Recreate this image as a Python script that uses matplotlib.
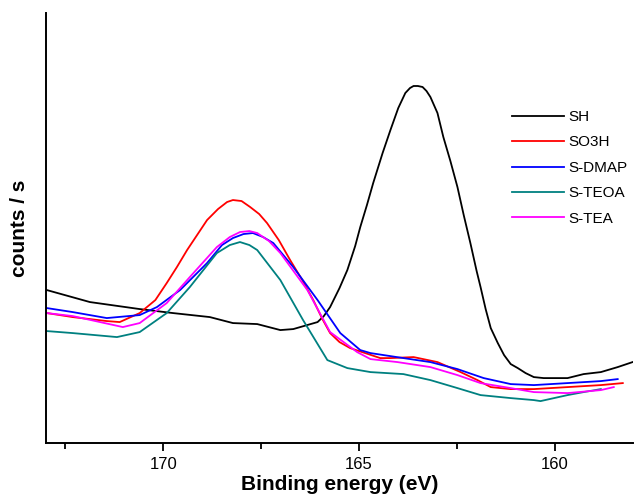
import matplotlib
matplotlib.use("Agg")
import matplotlib.pyplot as plt
from matplotlib.ticker import MultipleLocator, NullLocator

# Binding energy (eV) and intensity (arb. counts/s)
SH_E = [172.97, 171.87, 170.60, 169.75, 168.81, 168.22, 167.60, 167.01, 166.68,
        166.06, 165.90, 165.74, 165.50, 165.30, 165.10, 164.97, 164.80, 164.64,
        164.40, 164.20, 164.00, 163.82, 163.70, 163.61, 163.50, 163.38, 163.28,
        163.18, 163.00, 162.85, 162.67, 162.49, 162.33, 162.16, 162.00, 161.90,
        161.77, 161.64, 161.46, 161.30, 161.13, 160.95, 160.75, 160.54, 160.29,
        159.68, 159.27, 158.83, 158.40, 158.02]
SH_I = [153, 141, 134, 130, 126, 120, 119, 113, 114,
        121, 127, 136, 155, 173, 197, 216, 238, 260,
        290, 313, 335, 350, 355, 357, 357, 356, 352,
        346, 330, 306, 282, 256, 228, 200, 172, 156,
        134, 115, 100, 88, 79, 75, 70, 66, 65,
        65, 69, 71, 76, 81]

SO3H_E = [172.97, 172.31, 171.44, 171.11, 170.60, 170.20, 169.91, 169.65, 169.39,
          168.88, 168.60, 168.37, 168.22, 168.00, 167.78, 167.55, 167.35, 167.05,
          166.76, 166.45, 166.17, 165.95, 165.74, 165.50, 165.23, 164.46, 164.20,
          163.61, 163.00, 162.41, 161.98, 161.64, 161.13, 160.54, 159.68, 158.83,
          158.27]
SO3H_I = [130, 126, 122, 121, 130, 143, 160, 176, 193,
          223, 234, 241, 243, 242, 236, 229, 220, 203,
          183, 163, 143, 125, 110, 101, 95, 85, 85,
          86, 81, 71, 63, 56, 54, 54, 56, 58,
          60]

DMAP_E = [172.97, 172.31, 171.44, 170.60, 170.16, 169.57, 168.88, 168.50, 168.22,
          167.95, 167.71, 167.45, 167.19, 166.68, 166.06, 165.48, 164.97, 164.71,
          163.87, 163.18, 162.49, 161.82, 161.13, 160.54, 159.68, 158.83, 158.40]
DMAP_I = [135, 131, 125, 128, 136, 153, 180, 198, 205,
          209, 210, 206, 200, 176, 143, 110, 93, 90,
          85, 81, 74, 65, 59, 58, 60, 62, 64]

TEOA_E = [172.97, 172.31, 171.18, 170.60, 169.91, 169.32, 168.63, 168.30, 168.04,
          167.80, 167.60, 167.01, 166.43, 165.81, 165.30, 164.71, 163.87, 163.18,
          162.49, 161.90, 161.13, 160.54, 160.37, 159.68, 159.27, 158.83]
TEOA_I = [112, 110, 106, 111, 130, 156, 190, 198, 201,
          198, 193, 163, 123, 83, 75, 71, 69, 63,
          55, 48, 45, 43, 42, 48, 51, 54]

TEA_E = [172.97, 172.31, 171.03, 170.60, 169.91, 169.32, 168.63, 168.30, 168.04,
         167.80, 167.60, 167.30, 167.01, 166.32, 165.74, 165.05, 164.71, 164.02,
         163.18, 162.49, 161.90, 161.13, 160.54, 159.68, 158.83, 158.50]
TEA_I = [130, 127, 116, 120, 140, 166, 196, 206, 211,
         212, 210, 202, 190, 153, 111, 91, 84, 81,
         76, 68, 60, 55, 51, 50, 53, 56]

SERIES = [
    (SH_E, SH_I, "SH", "black"),
    (SO3H_E, SO3H_I, "SO3H", "#FF0000"),
    (DMAP_E, DMAP_I, "S-DMAP", "#0000FF"),
    (TEOA_E, TEOA_I, "S-TEOA", "#008080"),
    (TEA_E, TEA_I, "S-TEA", "#FF00FF"),
]

plt.rcParams["font.family"] = ["Liberation Sans", "DejaVu Sans"]

fig = plt.figure(figsize=(6.34, 4.99), dpi=100)
ax = fig.add_axes([0.072, 0.112, 0.927, 0.862])

for e, i, lbl, c in SERIES:
    ax.plot(e, i, color=c, lw=1.3, label=lbl)

ax.set_xlim(173, 158)
ax.set_ylim(0, 430)
ax.xaxis.set_major_locator(MultipleLocator(5))
ax.xaxis.set_minor_locator(MultipleLocator(2.5))
ax.yaxis.set_major_locator(NullLocator())
ax.tick_params(axis="x", which="major", length=6, width=1.3, labelsize=12, pad=4)
ax.tick_params(axis="x", which="minor", length=4, width=1.3)
ax.spines[["top", "right"]].set_visible(False)
ax.spines[["left", "bottom"]].set_linewidth(1.4)

ax.set_xlabel("Binding energy (eV)", fontsize=15, fontweight="bold", labelpad=2)
ax.set_ylabel("counts / s", fontsize=15, fontweight="bold", labelpad=12)

fig.legend(loc="upper left", bbox_to_anchor=(512 / 634, 1 - 110 / 499),
           frameon=False, fontsize=11, handlelength=3.4, handletextpad=0.3,
           labelspacing=0.75, borderpad=0, borderaxespad=0)

fig.savefig("out.png", dpi=100, facecolor="white")
